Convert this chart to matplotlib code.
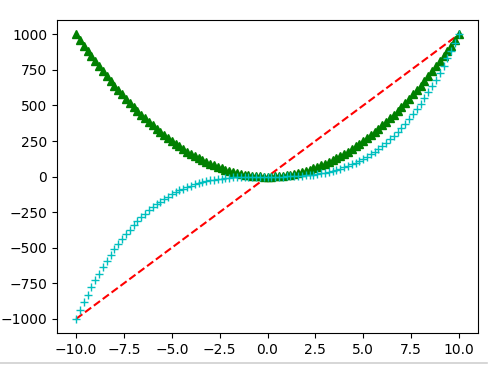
import matplotlib
matplotlib.use('Agg')
import matplotlib.pyplot as plt
from matplotlib.lines import Line2D

x = [-10.0, -9.8, -9.6, -9.4, -9.2, -9.0, -8.8, -8.6, -8.4, -8.2,
     -8.0, -7.8, -7.6, -7.4, -7.2, -7.0, -6.8, -6.6, -6.4, -6.2,
     -6.0, -5.8, -5.6, -5.4, -5.2, -5.0, -4.8, -4.6, -4.4, -4.2,
     -4.0, -3.8, -3.6, -3.4, -3.2, -3.0, -2.8, -2.6, -2.4, -2.2,
     -2.0, -1.8, -1.6, -1.4, -1.2, -1.0, -0.8, -0.6, -0.4, -0.2,
     0.0, 0.2, 0.4, 0.6, 0.8, 1.0, 1.2, 1.4, 1.6, 1.8,
     2.0, 2.2, 2.4, 2.6, 2.8, 3.0, 3.2, 3.4, 3.6, 3.8,
     4.0, 4.2, 4.4, 4.6, 4.8, 5.0, 5.2, 5.4, 5.6, 5.8,
     6.0, 6.2, 6.4, 6.6, 6.8, 7.0, 7.2, 7.4, 7.6, 7.8,
     8.0, 8.2, 8.4, 8.6, 8.8, 9.0, 9.2, 9.4, 9.6, 9.8, 10.0]

linear = [-1000, -980, -960, -940, -920, -900, -880, -860, -840, -820,
          -800, -780, -760, -740, -720, -700, -680, -660, -640, -620,
          -600, -580, -560, -540, -520, -500, -480, -460, -440, -420,
          -400, -380, -360, -340, -320, -300, -280, -260, -240, -220,
          -200, -180, -160, -140, -120, -100, -80, -60, -40, -20,
          0, 20, 40, 60, 80, 100, 120, 140, 160, 180,
          200, 220, 240, 260, 280, 300, 320, 340, 360, 380,
          400, 420, 440, 460, 480, 500, 520, 540, 560, 580,
          600, 620, 640, 660, 680, 700, 720, 740, 760, 780,
          800, 820, 840, 860, 880, 900, 920, 940, 960, 980, 1000]

square = [1000, 960.4, 921.6, 883.6, 846.4, 810, 774.4, 739.6, 705.6, 672.4,
          640, 608.4, 577.6, 547.6, 518.4, 490, 462.4, 435.6, 409.6, 384.4,
          360, 336.4, 313.6, 291.6, 270.4, 250, 230.4, 211.6, 193.6, 176.4,
          160, 144.4, 129.6, 115.6, 102.4, 90, 78.4, 67.6, 57.6, 48.4,
          40, 32.4, 25.6, 19.6, 14.4, 10, 6.4, 3.6, 1.6, 0.4,
          0, 0.4, 1.6, 3.6, 6.4, 10, 14.4, 19.6, 25.6, 32.4,
          40, 48.4, 57.6, 67.6, 78.4, 90, 102.4, 115.6, 129.6, 144.4,
          160, 176.4, 193.6, 211.6, 230.4, 250, 270.4, 291.6, 313.6, 336.4,
          360, 384.4, 409.6, 435.6, 462.4, 490, 518.4, 547.6, 577.6, 608.4,
          640, 672.4, 705.6, 739.6, 774.4, 810, 846.4, 883.6, 921.6, 960.4, 1000]

cube = [-1000.0, -941.2, -884.7, -830.6, -778.7, -729.0, -681.5, -636.1, -592.7, -551.4,
        -512.0, -474.6, -439.0, -405.2, -373.2, -343.0, -314.4, -287.5, -262.1, -238.3,
        -216.0, -195.1, -175.6, -157.5, -140.6, -125.0, -110.6, -97.3, -85.2, -74.1,
        -64.0, -54.9, -46.7, -39.3, -32.8, -27.0, -22.0, -17.6, -13.8, -10.6,
        -8.0, -5.8, -4.1, -2.7, -1.7, -1.0, -0.5, -0.2, -0.1, 0.0,
        0.0, 0.0, 0.1, 0.2, 0.5, 1.0, 1.7, 2.7, 4.1, 5.8,
        8.0, 10.6, 13.8, 17.6, 22.0, 27.0, 32.8, 39.3, 46.7, 54.9,
        64.0, 74.1, 85.2, 97.3, 110.6, 125.0, 140.6, 157.5, 175.6, 195.1,
        216.0, 238.3, 262.1, 287.5, 314.4, 343.0, 373.2, 405.2, 439.0, 474.6,
        512.0, 551.4, 592.7, 636.1, 681.5, 729.0, 778.7, 830.6, 884.7, 941.2, 1000.0]

fig = plt.figure(figsize=(5, 3.66), dpi=100)
ax = fig.add_axes([0.114, 0.09, 0.842, 0.855])
ax.plot(x, linear, 'r--', x, square, 'g^', x, cube, 'c+')

# light separator line from the screenshot
fig.add_artist(Line2D([0, 0.974], [0.008, 0.008], color='#d0d0d0', lw=1.2,
                      transform=fig.transFigure))

fig.savefig('out.png', dpi=100)
